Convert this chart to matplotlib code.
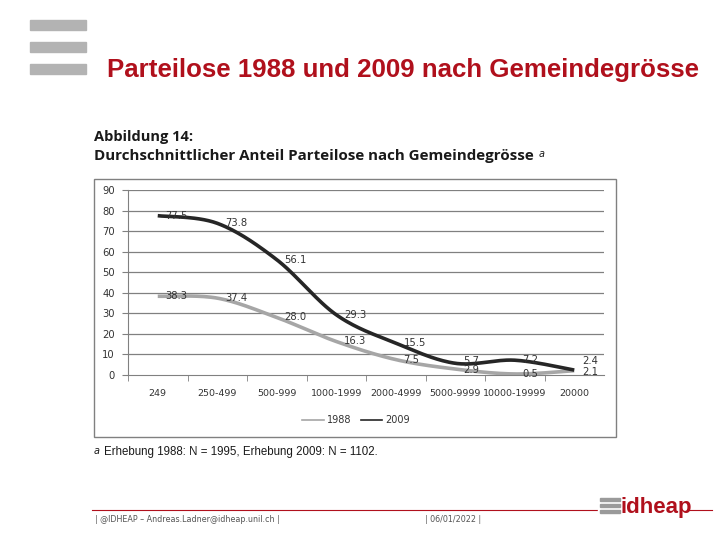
import numpy as np
import matplotlib
matplotlib.use("Agg")
import matplotlib.pyplot as plt
from matplotlib.patches import Rectangle
from matplotlib.lines import Line2D

# data
categories = ["249", "250-499", "500-999", "1000-1999", "2000-4999",
              "5000-9999", "10000-19999", "20000"]
values_1988 = [38.3, 37.4, 28.0, 16.3, 7.5, 2.9, 0.5, 2.1]
values_2009 = [77.5, 73.8, 56.1, 29.3, 15.5, 5.7, 7.2, 2.4]
labels_1988 = ["38.3", "37.4", "28.0", "16.3", "7.5", "2.9", "0.5", "2.1"]
labels_2009 = ["77.5", "73.8", "56.1", "29.3", "15.5", "5.7", "7.2", "2.4"]
y_ticks = [0, 10, 20, 30, 40, 50, 60, 70, 80, 90]

W, H = 720, 540


def fx(px):
    return px / W


def fy(py):
    return 1 - py / H


def smooth(xs, ys, n=30):
    # Excel-like smoothed line (cubic bezier through the points)
    p = np.column_stack([xs, ys]).astype(float)
    p = np.vstack([p[0], p, p[-1]])
    out = []
    for i in range(1, len(p) - 2):
        p0, p1, p2, p3 = p[i - 1], p[i], p[i + 1], p[i + 2]
        c1 = p1 + (p2 - p0) / 6
        c2 = p2 - (p3 - p1) / 6
        t = np.linspace(0, 1, n)[:, None]
        seg = ((1 - t) ** 3) * p1 + 3 * ((1 - t) ** 2) * t * c1 + 3 * (1 - t) * t ** 2 * c2 + t ** 3 * p2
        out.append(seg if i == 1 else seg[1:])
    out = np.vstack(out)
    return out[:, 0], out[:, 1]


fig = plt.figure(figsize=(7.2, 5.4), dpi=100)

# slide decoration: grey bars top left
for top in [20, 42, 64]:
    fig.patches.append(Rectangle((fx(30), fy(top + 10)), fx(56), 10 / H,
                                 transform=fig.transFigure, color="#b3b3b3"))

fig.text(fx(107), fy(70), "Parteilose 1988 und 2009 nach Gemeindegrösse",
         color="#b0101c", fontsize=18.6, family="Liberation Sans", fontweight="bold",
         ha="left", va="center")

fig.text(fx(94), fy(137), "Abbildung 14:", fontsize=10.5, fontweight="bold",
         family="Open Sans", color="#1a1a1a", ha="left", va="center")
fig.text(fx(94), fy(156), "Durchschnittlicher Anteil Parteilose nach Gemeindegrösse",
         fontsize=10.9, fontweight="bold", family="Open Sans", color="#1a1a1a",
         ha="left", va="center")
fig.text(fx(539), fy(154), "a", fontsize=7, style="italic", color="#1a1a1a",
         ha="left", va="center")

# chart frame
fig.patches.append(Rectangle((fx(94), fy(437)), fx(522), 258 / H,
                             transform=fig.transFigure, fill=False,
                             edgecolor="#808080", linewidth=1))

ax = fig.add_axes([fx(128), fy(375), fx(476), (375 - 190) / H])
x = np.arange(len(categories))
ax.set_xlim(-0.5, len(categories) - 0.5)
ax.set_ylim(0, 90)

for v in y_ticks[1:]:
    ax.axhline(v, color="#808080", linewidth=0.9, zorder=1)

for vals, col in [(values_1988, "#a6a6a6"), (values_2009, "#262626")]:
    sx, sy = smooth(x, vals)
    ax.plot(sx, sy, color=col, linewidth=2.6, solid_capstyle="butt", zorder=3)

# label nudges (as placed in the original)
off_2009 = [0, 0, 0, 0, 0, 1.0, 0, 4.2]
off_1988 = [0, 0, 0, 0, 0, -0.6, 0, -0.6]
small = dict(fontsize=7.2, family="DejaVu Sans", color="#333333")
for i in range(len(categories)):
    ax.text(x[i] + 0.13, values_2009[i] + off_2009[i], labels_2009[i], ha="left",
            va="center", zorder=4, **small)
    ax.text(x[i] + 0.13, values_1988[i] + off_1988[i], labels_1988[i], ha="left",
            va="center", zorder=4, **small)

for s in ["top", "right"]:
    ax.spines[s].set_visible(False)
ax.spines["left"].set_color("#808080")
ax.spines["bottom"].set_color("#808080")
ax.set_yticks(y_ticks)
ax.set_yticklabels([str(v) for v in y_ticks], **small)
ax.tick_params(axis="y", length=4, color="#808080", pad=5.5)
ax.set_xticks(x)
ax.set_xticklabels(categories, fontsize=6.8, family="DejaVu Sans", color="#333333")
ax.tick_params(axis="x", length=0, pad=10)
ax.set_xticks(np.arange(len(categories)) - 0.5, minor=True)
ax.tick_params(axis="x", which="minor", length=4, color="#808080")

handles = [Line2D([], [], color="#a6a6a6", linewidth=1.2),
           Line2D([], [], color="#262626", linewidth=1.2)]
fig.legend(handles, ["1988", "2009"], loc="center", bbox_to_anchor=(fx(356), fy(420)),
           ncol=2, frameon=False, prop={"size": 7, "family": "DejaVu Sans"},
           handlelength=2.2, handletextpad=0.3, columnspacing=1.0,
           labelcolor="#333333")

fig.text(fx(94), fy(451), "a", fontsize=7, style="italic", color="#1a1a1a",
         ha="left", va="center")
fig.text(fx(104), fy(452), "Erhebung 1988: N = 1995, Erhebung 2009: N = 1102.",
         fontsize=8.3, family="Liberation Sans", color="#1a1a1a", ha="left", va="center")

# footer
fig.add_artist(Line2D([fx(92), fx(712)], [fy(510), fy(510)], color="#b0101c",
                      linewidth=0.8, transform=fig.transFigure))
fig.patches.append(Rectangle((fx(598), fy(518)), fx(88), 26 / H,
                             transform=fig.transFigure, color="white", zorder=2))
for top in [498, 504, 510]:
    fig.patches.append(Rectangle((fx(600), fy(top + 3)), fx(20), 3 / H,
                                 transform=fig.transFigure, color="#9a9a9a", zorder=3))
fig.text(fx(620), fy(507), "idheap", fontsize=16, fontweight="bold",
         family="Liberation Sans", color="#b0101c", ha="left", va="center", zorder=4)
fig.text(fx(95), fy(520), "| @IDHEAP – Andreas.Ladner@idheap.unil.ch |",
         fontsize=5.8, color="#555555", ha="left", va="center")
fig.text(fx(425), fy(520), "| 06/01/2022 |", fontsize=5.8, color="#555555",
         ha="left", va="center")

fig.savefig("out.png", dpi=100, facecolor="white")
